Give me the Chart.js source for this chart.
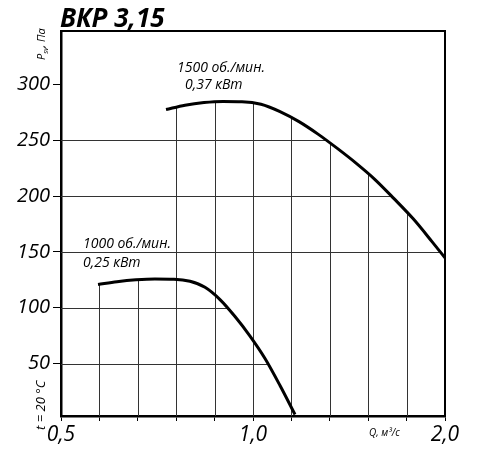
<!DOCTYPE html>
<html>
<head>
<meta charset="utf-8">
<script src="https://cdn.jsdelivr.net/npm/chart.js@4/dist/chart.umd.min.js"></script>
<style>
  body { margin: 0; background: #fff; }
  #wrap { width: 500px; height: 461px; }
</style>
</head>
<body>
<div id="wrap"><canvas id="myChart"></canvas></div>
<script>
// данные кривых (Q, м3/с -> P, Па)
const qHigh = [0.7305, 0.7823, 0.8379, 0.8973, 0.9610, 1.0293, 1.1024, 1.1806, 1.2645, 1.3542, 1.4504, 1.5534, 1.6637, 1.7818, 1.9083, 2.0];
const pHigh = [277.6, 281.5, 283.9, 284.9, 284.7, 282.4, 275.8, 266.8, 255.6, 243.0, 229.6, 214.9, 197.8, 179.9, 159.3, 144.7];
const qLow = [0.5715, 0.6120, 0.6555, 0.7020, 0.7518, 0.7966, 0.8409, 0.8877, 0.9371, 0.9893, 1.0443, 1.1024, 1.1637];
const pLow = [120.8, 123.3, 125.0, 125.8, 125.6, 123.7, 118.3, 107.3, 92.1, 74.6, 54.5, 30.3, 4.3];

const qGrid = [0.5, 0.574, 0.660, 0.758, 0.871, 1.0, 1.149, 1.320, 1.516, 1.741, 2.0];
const qTickValues = [0.5, 1, 2];
const qTickText = ['0,5', '1,0', '2,0'];
const pTicks = [50, 100, 150, 200, 250, 300];

const curveNames = ['1500 об./мин.', '1000 об./мин.'];
const curvePower = ['0,37 кВт', '0,25 кВт'];

function puntos(qs, ps){
  var arr = [];
  for (var i = 0; i < qs.length; i++){
    arr.push({x: qs[i], y: ps[i]});
  }
  return arr;
}

// y pixel of a curve at pixel x (null if outside)
function curvaY(meta, px){
  var pts = meta.data;
  if (px < pts[0].x - 0.5 || px > pts[pts.length-1].x + 0.5) return null;
  var r = meta.dataset.interpolate({x: Math.min(Math.max(px, pts[0].x), pts[pts.length-1].x)}, 'x');
  if (Array.isArray(r)) r = r[0];
  return r ? r.y : null;
}

const gridPlugin = {
  id: 'gridBajoCurva',
  beforeDatasetsDraw(chart){
    const ctx = chart.ctx;
    const xs = chart.scales.x, ys = chart.scales.y;
    const area = chart.chartArea;
    const metas = [chart.getDatasetMeta(0), chart.getDatasetMeta(1)];
    const maxes = [Math.max.apply(null, pHigh), Math.max.apply(null, pLow)];
    ctx.save();
    ctx.strokeStyle = '#333';
    ctx.lineWidth = 1;
    // verticales hasta la curva
    qGrid.slice(1, -1).forEach(function(q){
      var px = Math.round(xs.getPixelForValue(q)) + 0.5;
      var top = null;
      metas.forEach(function(m){
        var y = curvaY(m, px);
        if (y !== null && (top === null || y < top)) top = y;
      });
      if (top === null) return;
      ctx.beginPath();
      ctx.moveTo(px, area.bottom);
      ctx.lineTo(px, top);
      ctx.stroke();
    });
    // horizontales hasta la curva mas baja que las alcanza
    pTicks.forEach(function(v){
      var idx = null;
      if (maxes[1] >= v) idx = 1; else if (maxes[0] >= v) idx = 0;
      if (idx === null) return;
      var py = Math.round(ys.getPixelForValue(v)) + 0.5;
      var m = metas[idx];
      var pts = m.data;
      var xEnd = pts[0].x;
      for (var px = pts[pts.length-1].x; px >= pts[0].x; px -= 0.25){
        var y = curvaY(m, px);
        if (y !== null && y <= py){ xEnd = px; break; }
      }
      ctx.beginPath();
      ctx.moveTo(area.left, py);
      ctx.lineTo(xEnd, py);
      ctx.stroke();
    });
    ctx.restore();
  },
  afterDraw(chart){
    const ctx = chart.ctx;
    const area = chart.chartArea;
    ctx.save();
    // marco
    ctx.strokeStyle = '#000';
    ctx.lineWidth = 2;
    ctx.beginPath();
    ctx.moveTo(area.left, area.top);
    ctx.lineTo(area.right, area.top);
    ctx.lineTo(area.right, area.bottom);
    ctx.stroke();

    ctx.fillStyle = '#000';
    ctx.textBaseline = 'alphabetic';
    ctx.textAlign = 'left';
    ctx.font = 'italic bold 26px "Open Sans"';
    ctx.fillText('ВКР 3,15', 60, 27);

    ctx.font = 'italic 14px "Open Sans"';
    ctx.fillText(curveNames[0], 177, 72);
    ctx.fillText(curvePower[0], 185, 89);
    ctx.fillText(curveNames[1], 83, 248);
    ctx.fillText(curvePower[1], 83, 267);

    ctx.font = 'italic 10px "Open Sans"';
    ctx.fillText('Q, м³/с', 369, 436);

    // textos verticales
    ctx.save();
    ctx.translate(45, 60);
    ctx.rotate(-Math.PI/2);
    ctx.font = 'italic 11px "Open Sans"';
    ctx.fillText('P', 0, 0);
    var w = ctx.measureText('P').width;
    ctx.font = 'italic 7px "Open Sans"';
    ctx.fillText('sv', w, 3);
    var w2 = ctx.measureText('sv').width;
    ctx.font = 'italic 11px "Open Sans"';
    ctx.fillText(', Па', w + w2, 0);
    ctx.restore();

    ctx.save();
    ctx.translate(45, 430);
    ctx.rotate(-Math.PI/2);
    ctx.font = 'italic 13px "Open Sans"';
    ctx.fillText('t = 20 °C', 0, 0);
    ctx.restore();

    ctx.restore();
  }
};

const ctx = document.getElementById('myChart');
new Chart(ctx, {
  type: 'line',
  data: {
    datasets: [{
      label: curveNames[0],
      data: puntos(qHigh, pHigh),
      borderColor: '#000',
      borderWidth: 3,
      pointRadius: 0,
      cubicInterpolationMode: 'monotone',
      fill: false
    }, {
      label: curveNames[1],
      data: puntos(qLow, pLow),
      borderColor: '#000',
      borderWidth: 3,
      pointRadius: 0,
      cubicInterpolationMode: 'monotone',
      fill: false
    }]
  },
  options: {
    responsive: true,
    maintainAspectRatio: false,
    animation: false,
    layout: { padding: { top: 31, right: 55, left: 0, bottom: 0 } },
    plugins: {
      legend: { display: false },
      tooltip: { enabled: false }
    },
    scales: {
      x: {
        type: 'logarithmic',
        min: 0.5,
        max: 2,
        afterBuildTicks: function(s){ s.ticks = qGrid.map(function(v){ return {value: v}; }); },
        afterFit: function(s){ s.height = 45; },
        ticks: {
          autoSkip: false,
          maxRotation: 0,
          padding: 1,
          color: '#000',
          font: { family: 'Open Sans', size: 21, style: 'italic' },
          callback: function(value){
            for (var i = 0; i < qTickValues.length; i++){
              if (Math.abs(qTickValues[i] - value) < 1e-6) return qTickText[i];
            }
            return '';
          }
        },
        grid: { drawOnChartArea: false, drawTicks: true, tickLength: 5, color: '#000', lineWidth: 1 },
        border: { display: true, color: '#000', width: 2.5 }
      },
      y: {
        min: 3,
        max: 348,
        afterBuildTicks: function(s){ s.ticks = pTicks.map(function(v){ return {value: v}; }); },
        afterFit: function(s){ s.width = 61; },
        ticks: {
          padding: 3,
          color: '#000',
          font: { family: 'Open Sans', size: 20, style: 'italic' }
        },
        grid: { drawOnChartArea: false, drawTicks: true, tickLength: 8, color: '#000', lineWidth: 1 },
        border: { display: true, color: '#000', width: 2.5 }
      }
    }
  },
  plugins: [gridPlugin]
});
</script>
</body>
</html>
